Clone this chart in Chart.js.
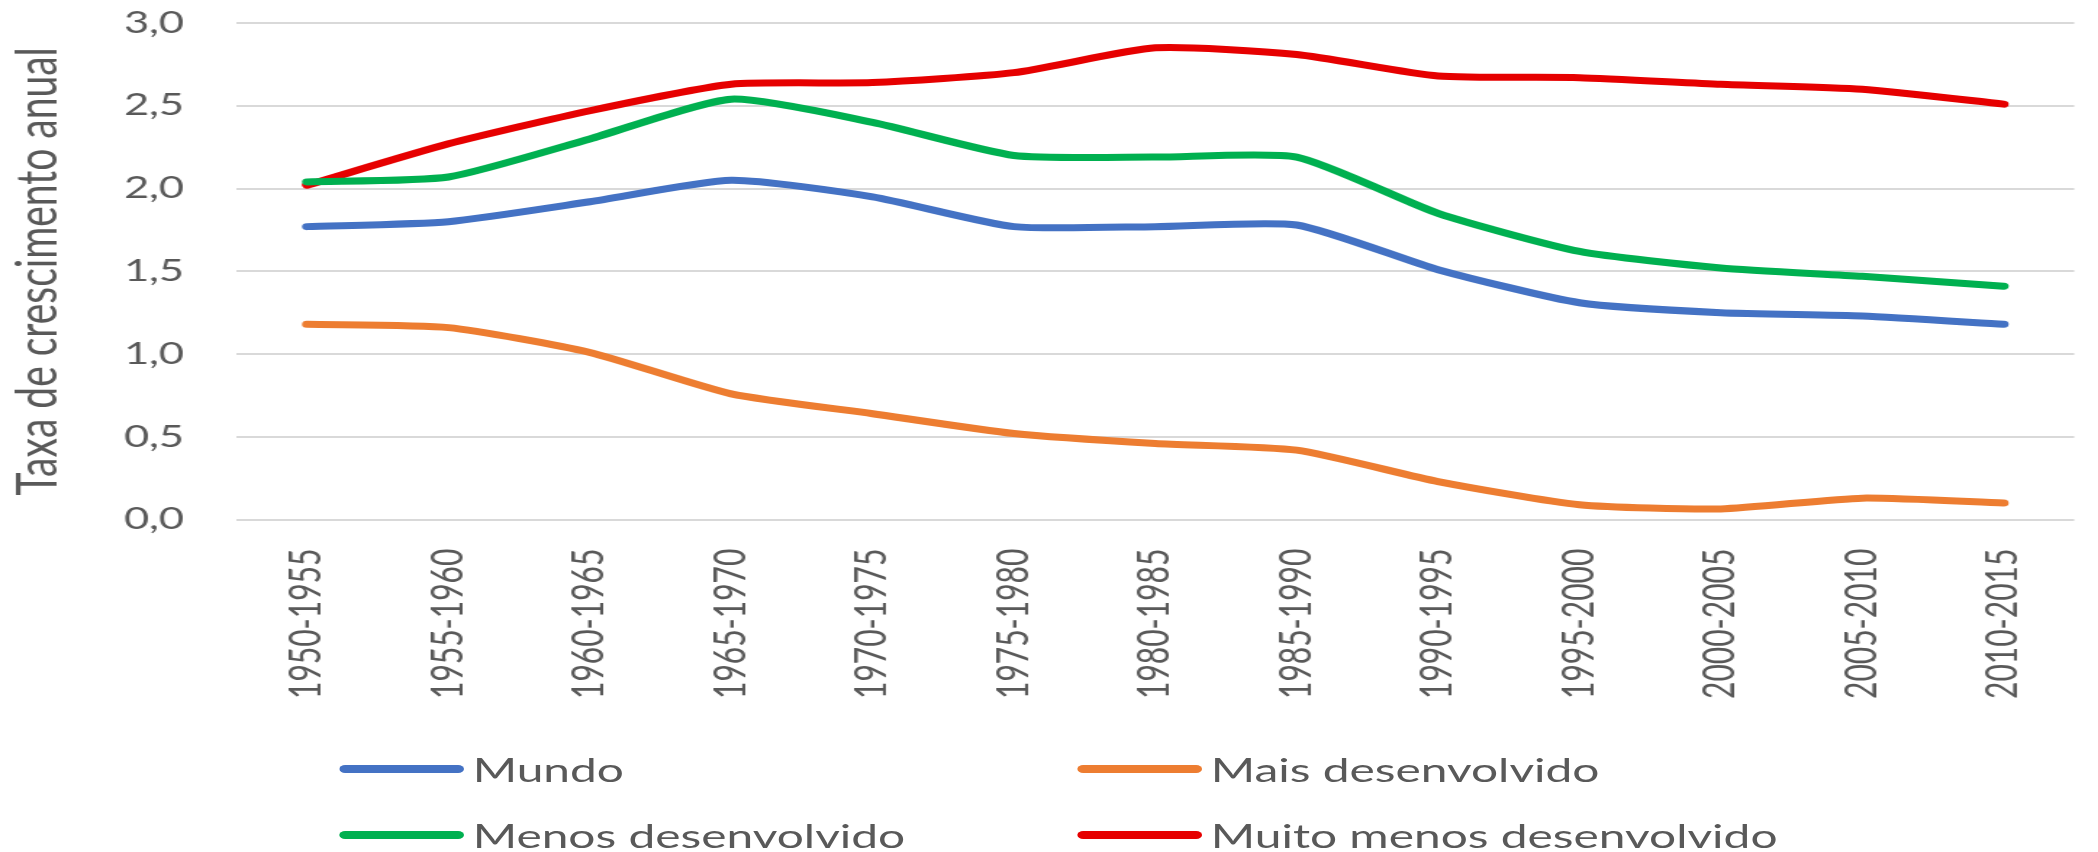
<!DOCTYPE html>
<html>
<head>
<meta charset="utf-8">
<script src="https://cdn.jsdelivr.net/npm/chart.js@4.4.1/dist/chart.umd.min.js"></script>
<style>
  html, body { margin: 0; padding: 0; background: #fff; overflow: hidden; }
  /* the reference is stretched sideways, so the whole chart is drawn narrow and scaled */
  #wrap { position: absolute; left: 0; top: 0; width: 1447px; height: 852px;
          transform: scaleX(1.45); transform-origin: 0 0; }
  #box { position: absolute; left: 0; top: 0; width: 1447px; height: 852px; }
  .item { position: absolute; display: flex; align-items: center; height: 40px;
          font-family: Lato, sans-serif; font-size: 33px; color: #595959; white-space: nowrap; }
  .item span.swatch { display: inline-block; width: 86px; height: 8px; border-radius: 4px; margin-right: 6px; }
</style>
</head>
<body>
<div id="wrap">
  <div id="box"><canvas id="growth"></canvas></div>
  <div id="legend"></div>
</div>
<script>
var periods = ['1950-1955', '1955-1960', '1960-1965', '1965-1970', '1970-1975', '1975-1980', '1980-1985',
               '1985-1990', '1990-1995', '1995-2000', '2000-2005', '2005-2010', '2010-2015'];

var mundo = [1.77, 1.80, 1.92, 2.05, 1.95, 1.77, 1.77, 1.78, 1.51, 1.31, 1.25, 1.23, 1.18];
var maisDesenvolvido = [1.18, 1.16, 1.01, 0.76, 0.64, 0.52, 0.46, 0.42, 0.23, 0.09, 0.065, 0.13, 0.10];
var menosDesenvolvido = [2.04, 2.07, 2.30, 2.54, 2.40, 2.20, 2.19, 2.19, 1.85, 1.62, 1.52, 1.47, 1.41];
var muitoMenos = [2.02, 2.27, 2.47, 2.63, 2.64, 2.70, 2.85, 2.81, 2.68, 2.67, 2.63, 2.60, 2.51];

var yTicks = [0, 0.5, 1, 1.5, 2, 2.5, 3];

var grey = '#595959';

function line(label, values, color) {
  return {
    label: label,
    data: values,
    borderColor: color,
    backgroundColor: color,
    borderWidth: 7,
    borderCapStyle: 'round',
    borderJoinStyle: 'round',
    pointRadius: 0,
    tension: 0.2,
    fill: false
  };
}

var datasets = [
  line('Mundo', mundo, '#4472C4'),
  line('Mais desenvolvido', maisDesenvolvido, '#ED7D31'),
  line('Menos desenvolvido', menosDesenvolvido, '#00B050'),
  line('Muito menos desenvolvido', muitoMenos, '#E60000')
];

var chart = new Chart(document.getElementById('growth'), {
  type: 'line',
  data: { labels: periods, datasets: datasets },
  options: {
    responsive: true,
    maintainAspectRatio: false,
    animation: false,
    layout: { padding: { top: 23, right: 6, bottom: 124, left: 3 } },
    plugins: {
      legend: { display: false },
      tooltip: { enabled: false }
    },
    scales: {
      x: {
        offset: true,
        grid: { display: false, drawTicks: false },
        border: { display: false },
        ticks: {
          minRotation: 90, maxRotation: 90, padding: 29, autoSkip: false,
          color: grey, font: { family: 'Lato', size: 30 }
        }
      },
      y: {
        min: 0, max: 3,
        afterBuildTicks: function(scale) {
          scale.ticks = yTicks.map(function(v) { return { value: v }; });
        },
        afterFit: function(scale) {
          scale.width = 160;
          scale.paddingTop = 0;
          scale.paddingBottom = 0;
        },
        grid: { color: '#D9D9D9', lineWidth: 2, drawTicks: false },
        border: { display: false },
        ticks: {
          padding: 36, color: grey, font: { family: 'Lato', size: 30 },
          callback: function(v) { return v.toFixed(1).replace('.', ','); }
        },
        title: {
          display: true, text: 'Taxa de crescimento anual', color: grey,
          font: { family: 'Lato', size: 39 }, padding: { top: 0, bottom: 0 }
        }
      }
    }
  }
});

// legend in two fixed columns, like the reference
var legendPos = [[234, 749], [743, 749], [234, 815], [743, 815]];
var legend = document.getElementById('legend');
datasets.forEach(function(ds, i) {
  var item = document.createElement('div');
  item.className = 'item';
  item.style.left = legendPos[i][0] + 'px';
  item.style.top = legendPos[i][1] + 'px';
  var sw = document.createElement('span');
  sw.className = 'swatch';
  sw.style.background = ds.borderColor;
  item.appendChild(sw);
  item.appendChild(document.createTextNode(ds.label));
  legend.appendChild(item);
});
</script>
</body>
</html>
